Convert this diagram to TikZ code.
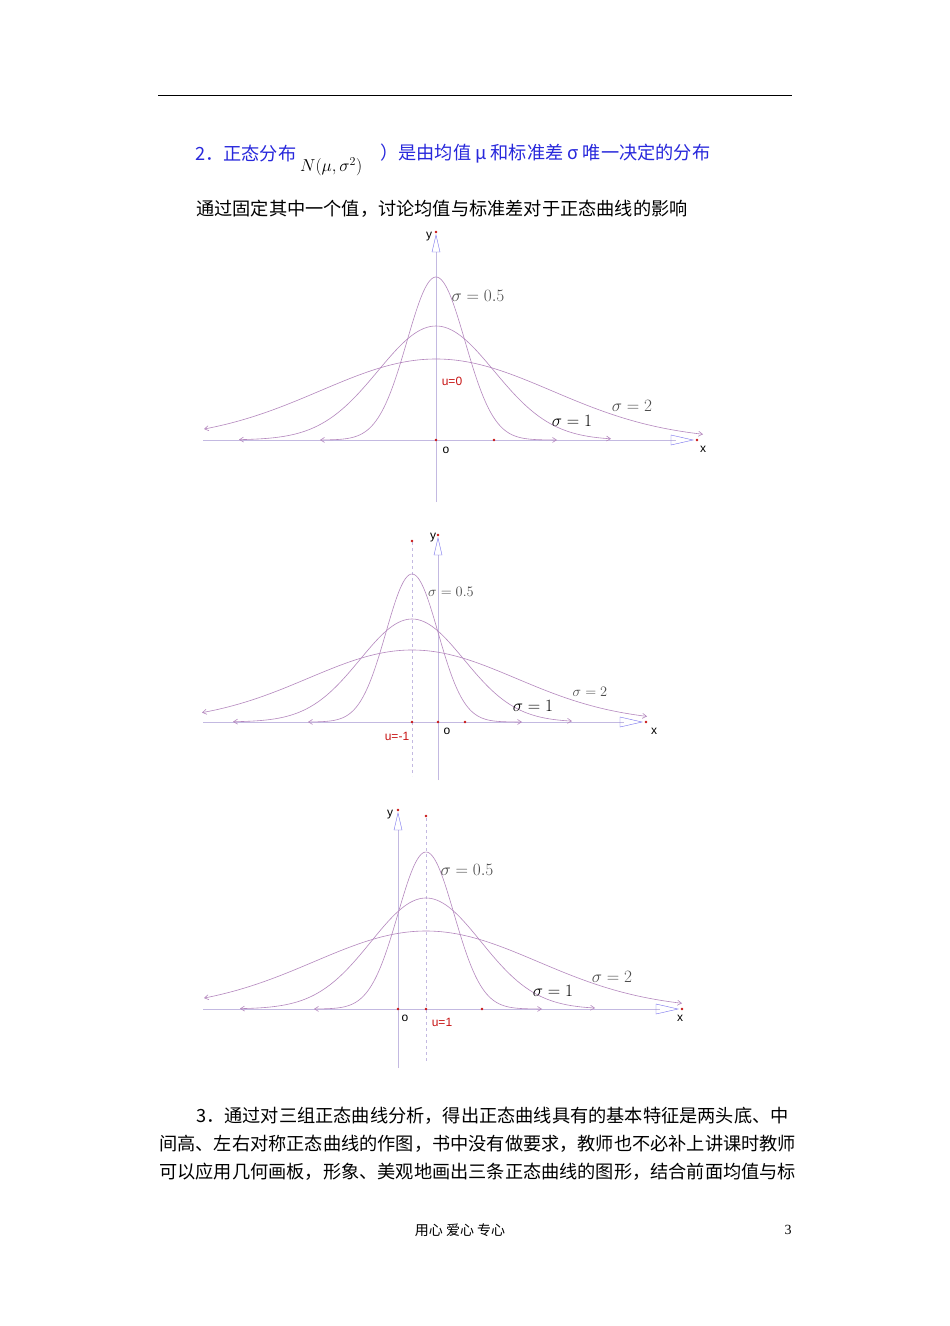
\documentclass[tikz,border=0pt]{standalone}
\usepackage{fontspec}
\setmainfont{Liberation Serif}
\newfontfamily\cjk{Noto Sans CJK SC}
\newfontfamily\sanslat{Liberation Sans}
\usetikzlibrary{arrows.meta}
\definecolor{curvec}{RGB}{180,135,190}
\definecolor{axisc}{RGB}{195,185,225}
\definecolor{headblue}{RGB}{40,40,220}
\definecolor{ptred}{RGB}{200,20,20}
\newcommand\bellcurve[6]{% cx, baseline y, height, s, left, right
  \draw[curvec,line width=0.6pt,{Straight Barb[length=4pt,width=5pt]}-{Straight Barb[length=4pt,width=5pt]}]
    plot[domain=#5:#6,samples=120,smooth] ({#1+\x},{#2-#3*exp(-0.5*(\x/#4)*(\x/#4))});}
\newcommand\ptdot[2]{\fill[ptred] (#1,#2) circle (1.4pt);}
\newcommand\xend[2]{% axis tip at x,y
  \draw[axisc!60!blue,line width=0.4pt] (#1-26,#2-5) -- (#1-4,#2) -- (#1-26,#2+5) -- cycle;
  \fill[ptred] (#1,#2) circle (1.4pt);}
\newcommand\yend[2]{%
  \draw[axisc!60!blue,line width=0.4pt] (#1-4,#2+20) -- (#1,#2+3) -- (#1+4,#2+20) -- cycle;
  \fill[ptred] (#1,#2) circle (1.4pt);}
\tikzset{lab/.style={font=\sanslat\fontsize{12}{12}\selectfont},
  sig/.style={font=\fontsize{17}{17}\selectfont,text=black!70},
  ured/.style={font=\sanslat\fontsize{12}{12}\selectfont,text=ptred},
  body/.style={font=\cjk\fontsize{18.2}{18.2}\selectfont,anchor=west,inner sep=0pt}}
\begin{document}
\begin{tikzpicture}[x=1pt,y=-1pt]
\useasboundingbox (0,0) rectangle (950,1326);
\fill[white] (0,0) rectangle (950,1326);
\draw[line width=1pt] (158,95) -- (792,95);
% heading
\node[body,text=headblue] (h1) at (195,154) {2．正态分布};
\node[font=\fontsize{17}{17}\selectfont,anchor=west,inner sep=0pt] (h2) at (300,167) {$N(\mu,\sigma^{2})$};
\node[body,text=headblue] (h3) at (380,154) {）是由均值 μ 和标准差 σ 唯一决定的分布};
\node[body] (l2) at (196,209) {通过固定其中一个值，讨论均值与标准差对于正态曲线的影响};
% ---------- graph 1 ----------
\draw[axisc,line width=0.6pt] (203,440) -- (676,440);
\draw[axisc,line width=0.6pt] (436,502) -- (436,252);
\xend{697}{440}\yend{436}{232}
\bellcurve{436}{440}{81}{116}{-232}{267}
\bellcurve{436}{440}{114}{58}{-197}{175}
\bellcurve{436}{440}{163}{29}{-116}{121}
\ptdot{436}{440}\ptdot{494}{440}
\node[sig] (g1a) at (478,296) {$\sigma = 0.5$};
\node[sig] (g1b) at (632,406) {$\sigma = 2$};
\node[sig,text=black] (g1c) at (572,421) {$\sigma = 1$};
\node[ured] (g1u) at (452,381) {u=0};
\node[lab] (g1o) at (446,450) {o};
\node[lab] (g1x) at (703,449) {x};
\node[lab] (g1y) at (429,237) {y};
% ---------- graph 2 ----------
\draw[axisc,line width=0.6pt] (203,722) -- (624,722);
\draw[axisc,line width=0.6pt] (438,780) -- (438,555);
\draw[axisc,dashed,line width=0.6pt] (412,542) -- (412,776);
\xend{646}{722}\yend{438}{535}
\bellcurve{412}{722}{72}{104}{-210}{235}
\bellcurve{412}{722}{103}{52}{-179}{160}
\bellcurve{412}{722}{148}{26}{-104}{110}
\ptdot{412}{541}\ptdot{412}{722}\ptdot{438}{722}\ptdot{465}{722}
\node[sig,font=\fontsize{15}{15}\selectfont] (g2a) at (451,592) {$\sigma = 0.5$};
\node[sig,font=\fontsize{15}{15}\selectfont] (g2b) at (590,692) {$\sigma = 2$};
\node[sig,text=black] (g2c) at (533,706) {$\sigma = 1$};
\node[ured] (g2u) at (397,736) {u=-1};
\node[lab] (g2o) at (447,731) {o};
\node[lab] (g2x) at (654,731) {x};
\node[lab] (g2y) at (433,538) {y};
% ---------- graph 3 ----------
\draw[axisc,line width=0.6pt] (203,1009) -- (660,1009);
\draw[axisc,line width=0.6pt] (398,1068) -- (398,830);
\draw[axisc,dashed,line width=0.6pt] (426,818) -- (426,1062);
\xend{682}{1009}\yend{398}{810}
\bellcurve{426}{1009}{78}{112}{-222}{256}
\bellcurve{426}{1009}{111}{55}{-186}{169}
\bellcurve{426}{1009}{157}{28}{-112}{116}
\ptdot{426}{816}\ptdot{398}{1009}\ptdot{426}{1009}\ptdot{482}{1009}
\node[sig] (g3a) at (467,870) {$\sigma = 0.5$};
\node[sig] (g3b) at (612,977) {$\sigma = 2$};
\node[sig,text=black] (g3c) at (553,991) {$\sigma = 1$};
\node[ured] (g3u) at (442,1022) {u=1};
\node[lab] (g3o) at (405,1018) {o};
\node[lab] (g3x) at (680,1018) {x};
\node[lab] (g3y) at (390,815) {y};
% ---------- paragraph ----------
\node[body] (p1) at (196,1116) {3．通过对三组正态曲线分析，得出正态曲线具有的基本特征是两头底、中};
\node[body] (p2) at (159,1144) {间高、左右对称正态曲线的作图，书中没有做要求，教师也不必补上讲课时教师};
\node[body] (p3) at (159,1172) {可以应用几何画板，形象、美观地画出三条正态曲线的图形，结合前面均值与标};
\node[font=\cjk\fontsize{14}{14}\selectfont] (ft) at (460,1230) {用心 爱心 专心};
\node[font=\fontsize{14}{14}\selectfont] (pg) at (788,1230) {3};
\end{tikzpicture}
\end{document}
